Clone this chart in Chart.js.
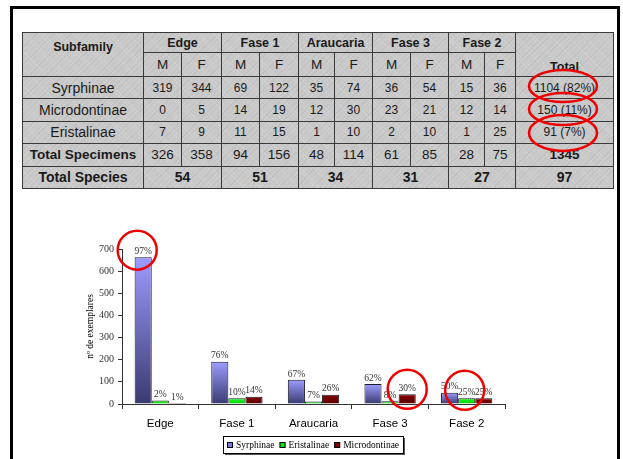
<!DOCTYPE html>
<html lang="pt-br">
<head>
    <meta charset="UTF-8">
    <title>Syrphidae - subfamílias</title>
    <script src="https://cdn.jsdelivr.net/npm/chart.js"></script>
    <style>
        body { margin: 0; background: #fff; width: 623px; height: 459px; overflow: hidden; position: relative; font-family: "Liberation Sans", Arial, sans-serif; }
        .moldura { position: absolute; left: 10px; top: 6px; width: 604px; height: 470px; border: 3px solid #000; border-bottom: none; }
        table.tabela {
            position: absolute; left: 22px; top: 32px; width: 591px;
            border-collapse: collapse; table-layout: fixed;
            background-color: #c8c8c8;
            background-image:
                repeating-linear-gradient(45deg, rgba(255,255,255,.18) 0 1px, transparent 1px 3px),
                repeating-linear-gradient(-45deg, rgba(90,90,90,.10) 0 1px, transparent 1px 4px);
            color: #1a1a1a;
        }
        .tabela td { border: 1px solid #3a3a3a; text-align: center; padding: 0; font-size: 12px; }
        .tabela .h1 td { height: 19px; font-weight: bold; font-size: 12.5px; }
        .tabela .h2 td { height: 23px; font-size: 13.5px; }
        .tabela .lin td { height: 21.4px; }
        .tabela .nome { font-size: 14px; }
        .tabela .neg { font-weight: bold; font-size: 14px; }
        .tabela .tot td { font-size: 13.5px; }
        .tabela .esp td { font-weight: bold; font-size: 14px; }
        svg.marcas { position: absolute; left: 0; top: 0; pointer-events: none; }
        .grafico { position: absolute; left: 60px; top: 228px; width: 507px; height: 231px; }
    </style>
</head>
<body>
    <div class="moldura"></div>
    <table class="tabela" id="tabela"></table>
    <svg class="marcas" width="623" height="200">
        <ellipse cx="563" cy="86" rx="34" ry="16" fill="none" stroke="#ee0000" stroke-width="2.5"/>
        <ellipse cx="563" cy="109" rx="34" ry="16" fill="none" stroke="#ee0000" stroke-width="2.5"/>
        <ellipse cx="563" cy="133" rx="34" ry="18" fill="none" stroke="#ee0000" stroke-width="2.5"/>
    </svg>
    <div class="grafico"><canvas id="grafico"></canvas></div>

    <script>
        // tabela
        const grupos = ['Edge', 'Fase 1', 'Araucaria', 'Fase 3', 'Fase 2'];
        const larguras = [121, 38, 40, 38, 39, 36, 38, 38, 38, 36, 31, 98];
        const tabSyrphinae = [319, 344, 69, 122, 35, 74, 36, 54, 15, 36];
        const tabMicrodontinae = [0, 5, 14, 19, 12, 30, 23, 21, 12, 14];
        const tabEristalinae = [7, 9, 11, 15, 1, 10, 2, 10, 1, 25];
        const tabTotalEspecimes = [326, 358, 94, 156, 48, 114, 61, 85, 28, 75];
        const tabTotalEspecies = [54, 51, 34, 31, 27];
        const totais = ['1104 (82%)', '150 (11%)', '91 (7%)', '1345', '97'];

        // gráfico
        const categorias = ['Edge', 'Fase 1', 'Araucaria', 'Fase 3', 'Fase 2'];
        const syrphinae = [663, 191, 109, 90, 51];
        const eristalinae = [16, 26, 11, 12, 26];
        const microdontinae = [5, 33, 42, 44, 26];
        const pctSyrphinae = ['97%', '76%', '67%', '62%', '50%'];
        const pctEristalinae = ['2%', '10%', '7%', '8%', '25%'];
        const pctMicrodontinae = ['1%', '14%', '26%', '30%', '25%'];

        function montarTabela() {
            let html = '<colgroup>' + larguras.map(w => `<col style="width:${w}px">`).join('') + '</colgroup>';
            html += '<tr class="h1"><td rowspan="2" class="neg" style="vertical-align:top;padding-top:7px">Subfamily</td>';
            grupos.forEach(g => { html += `<td colspan="2">${g}</td>`; });
            html += '<td rowspan="2" class="neg" style="vertical-align:bottom;padding-bottom:2px">Total</td></tr>';
            html += '<tr class="h2">' + grupos.map(() => '<td>M</td><td>F</td>').join('') + '</tr>';
            const linhas = [['Syrphinae', tabSyrphinae], ['Microdontinae', tabMicrodontinae], ['Eristalinae', tabEristalinae]];
            linhas.forEach(([nome, vals], i) => {
                html += `<tr class="lin"><td class="nome">${nome}</td>` + vals.map(v => `<td>${v}</td>`).join('') + `<td>${totais[i]}</td></tr>`;
            });
            html += '<tr class="lin tot"><td class="neg">Total Specimens</td>' + tabTotalEspecimes.map(v => `<td>${v}</td>`).join('') + `<td class="neg">${totais[3]}</td></tr>`;
            html += '<tr class="lin esp"><td>Total Species</td>' + tabTotalEspecies.map(v => `<td colspan="2">${v}</td>`).join('') + `<td>${totais[4]}</td></tr>`;
            document.getElementById('tabela').innerHTML = html;
        }
        montarTabela();

        function gradiente(topo, base) {
            return (c) => {
                const y = c.chart.scales.y;
                if (!y || !c.parsed) return topo;
                const y0 = y.getPixelForValue(c.parsed.y);
                const y1 = y.getPixelForValue(0);
                if (!isFinite(y0) || !isFinite(y1) || y1 - y0 < 1) return topo;
                const g = c.chart.ctx.createLinearGradient(0, y0, 0, y1);
                g.addColorStop(0, topo);
                g.addColorStop(1, base);
                return g;
            };
        }

        const rotulos = [pctSyrphinae, pctEristalinae, pctMicrodontinae];
        const cores = ['#7777dd', '#00ee00', '#800000'];
        const fonteSerif = '"Liberation Serif", serif';

        // percentuais, círculos vermelhos e legenda com moldura
        const extras = {
            id: 'extras',
            afterDatasetsDraw(chart) {
                const ctx = chart.ctx;
                const area = chart.chartArea;
                ctx.save();
                ctx.font = '9.5px ' + fonteSerif;
                ctx.fillStyle = '#333';
                ctx.textAlign = 'center';
                ctx.textBaseline = 'bottom';
                chart.data.datasets.forEach((ds, d) => {
                    chart.getDatasetMeta(d).data.forEach((bar, i) => {
                        ctx.fillText(rotulos[d][i], bar.x, bar.y - 1);
                    });
                });

                const destaques = [[0, 0, -6, -7], [2, 3, 0, -5], [1, 4, -2, -8]];
                ctx.strokeStyle = '#ee0000';
                ctx.lineWidth = 2.5;
                destaques.forEach(([d, i, dx, dy]) => {
                    const bar = chart.getDatasetMeta(d).data[i];
                    ctx.beginPath();
                    ctx.arc(bar.x + dx, bar.y + dy, 19.5, 0, Math.PI * 2);
                    ctx.stroke();
                });

                // legenda
                ctx.font = '9.5px ' + fonteSerif;
                ctx.textAlign = 'left';
                ctx.textBaseline = 'middle';
                const nomes = chart.data.datasets.map(ds => ds.label);
                const larg = nomes.map(n => 9 + ctx.measureText(n).width);
                const total = larg.reduce((a, b) => a + b, 0) + 5 * (nomes.length - 1) + 8;
                const cx = (area.left + area.right) / 2;
                const topo = area.bottom + 32;
                let x = Math.round(cx - total / 2);
                ctx.lineWidth = 1;
                ctx.strokeStyle = '#000';
                ctx.strokeRect(x + 0.5, topo + 0.5, Math.round(total), 17);
                ctx.fillStyle = '#555';
                ctx.fillRect(x + 2, topo + 18, Math.round(total), 1);
                ctx.fillRect(x + Math.round(total) + 1, topo + 2, 1, 17);
                x += 4;
                const meio = topo + 9;
                nomes.forEach((n, i) => {
                    ctx.fillStyle = cores[i];
                    ctx.fillRect(x, meio - 3, 6, 6);
                    ctx.strokeStyle = '#000';
                    ctx.strokeRect(x + 0.5, meio - 2.5, 5, 5);
                    ctx.fillStyle = '#000';
                    ctx.fillText(n, x + 9, meio + 0.5);
                    x += larg[i] + 5;
                });
                ctx.restore();
            }
        };

        new Chart(document.getElementById('grafico'), {
            type: 'bar',
            data: {
                labels: categorias,
                datasets: [
                    { label: 'Syrphinae', data: syrphinae, backgroundColor: gradiente('#9c9cff', '#3a3a70') },
                    { label: 'Eristalinae', data: eristalinae, backgroundColor: gradiente('#22ff22', '#00cc00') },
                    { label: 'Microdontinae', data: microdontinae, backgroundColor: gradiente('#880000', '#5a0000') }
                ].map(ds => Object.assign(ds, { borderColor: '#1a1a2a', borderWidth: 1, borderSkipped: 'bottom', barPercentage: 1, categoryPercentage: 0.67 }))
            },
            options: {
                responsive: true,
                maintainAspectRatio: false,
                animation: false,
                layout: { padding: { top: 21, right: 62, left: 25, bottom: 25 } },
                plugins: {
                    tooltip: { enabled: false },
                    legend: { display: false }
                },
                scales: {
                    x: {
                        afterFit: (s) => { s.height = 30; },
                        grid: { offset: true, drawOnChartArea: false, drawTicks: true, tickLength: 5, color: '#333' },
                        border: { color: '#333', width: 1 },
                        ticks: { color: '#000', padding: 8, font: { family: '"Liberation Sans", Arial, sans-serif', size: 11.5 } }
                    },
                    y: {
                        min: 0, max: 700,
                        afterFit: (s) => { s.width = 37; },
                        grid: { drawOnChartArea: false, drawTicks: true, tickLength: 4, color: '#333' },
                        border: { color: '#333', width: 1 },
                        ticks: { stepSize: 100, color: '#333', padding: 4, font: { family: fonteSerif, size: 10 } },
                        title: { display: true, text: 'nº de exemplares', color: '#000', padding: { top: 0, bottom: 4 }, font: { family: fonteSerif, size: 9.5 } }
                    }
                }
            },
            plugins: [extras]
        });
    </script>
</body>
</html>
